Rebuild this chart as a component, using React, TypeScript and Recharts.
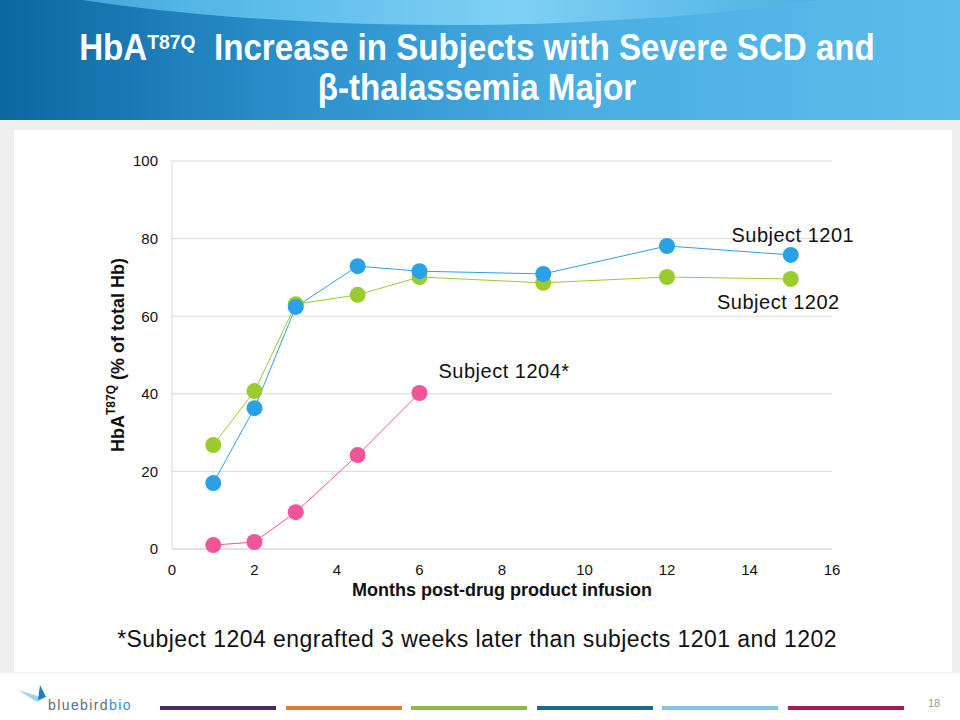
import React from 'react'
import { LineChart, Line, XAxis, YAxis, CartesianGrid, ReferenceDot, Label } from 'recharts'

// months after infusion
const months = [1, 2, 3, 4.5, 6, 9, 12, 15]
// HbA T87Q % of total Hb
const subject1201 = [17.0, 36.3, 62.4, 72.9, 71.6, 70.9, 78.1, 75.8]
const subject1202 = [26.8, 40.7, 63.1, 65.5, 70.1, 68.6, 70.1, 69.6]
const subject1204 = [1.0, 1.8, 9.5, 24.2, 40.2]

const xTicks = [0, 2, 4, 6, 8, 10, 12, 14, 16]
const yTicks = [0, 20, 40, 60, 80, 100]

// label anchors in data units
const seriesLabels = [
  { text: 'Subject 1201', x: 15.05, y: 81 },
  { text: 'Subject 1202', x: 14.7, y: 63.7 },
  { text: 'Subject 1204*', x: 8.05, y: 45.9 },
]

const footerBars = ['#4b2a5c', '#e07a2c', '#8dba45', '#1b6a8d', '#80c3e3', '#a8195b']

const data = months.map((m, i) => ({
  month: m,
  s1201: subject1201[i],
  s1202: subject1202[i],
  s1204: i < subject1204.length ? subject1204[i] : null,
}))

const FONT = '"Liberation Sans", Arial, sans-serif'

const BLUE = '#2aa1e6'
const GREEN = '#9bcb2f'
const PINK = '#ef5598'

function YTitle(props: any) {
  const vb = props.viewBox
  const cx = vb.x - 4
  const cy = vb.y + vb.height / 2
  return (
    <text
      x={cx}
      y={cy}
      transform={`rotate(-90 ${cx} ${cy})`}
      textAnchor="middle"
      dominantBaseline="central"
      style={{ fontFamily: FONT, fontSize: 18, fontWeight: 700, fill: '#111' }}
    >
      HbA
      <tspan fontSize={12} dy={-7}>T87Q</tspan>
      <tspan dy={7}> (% of total Hb)</tspan>
    </text>
  )
}

function SubjectLabel(props: any) {
  const vb = props.viewBox
  return (
    <text
      x={vb.x}
      y={vb.y}
      textAnchor="middle"
      dominantBaseline="central"
      style={{ fontFamily: FONT, fontSize: 20, letterSpacing: 0.5, fill: '#111' }}
    >
      {props.value}
    </text>
  )
}

export default function App() {
  return (
    <div style={{ position: 'absolute', left: 0, top: 0, width: 960, height: 720, background: '#fff', overflow: 'hidden', fontFamily: FONT }}>
      {/* header */}
      <div
        style={{
          position: 'absolute', left: 0, top: 0, width: 960, height: 120,
          background: 'linear-gradient(to right, #0d679f 0%, #2a8fcb 30%, #4aaee2 60%, #5cbcec 100%)',
        }}
      />
      <div
        style={{
          position: 'absolute', left: -200, top: -260, width: 1300, height: 285, borderRadius: '50%',
          background: 'linear-gradient(to right, #1a7fb8 0%, #52b6e6 30%, #7fd0f5 55%, #4aaee0 80%, #0f6fa4 100%)',
        }}
      />
      <div style={{ position: 'absolute', left: 0, top: 28, width: 954, textAlign: 'center', color: '#fff', fontWeight: 700, fontSize: 36, lineHeight: '40px', transform: 'scaleX(0.92)', transformOrigin: '477px 0' }}>
        <div>
          HbA<sup style={{ fontSize: 21, verticalAlign: 'top', position: 'relative', top: -6 }}>T87Q</sup>&nbsp; Increase in Subjects with Severe SCD and
        </div>
        <div>β-thalassemia Major</div>
      </div>

      {/* grey body with white card */}
      <div style={{ position: 'absolute', left: 0, top: 120, width: 960, height: 553, background: '#efefef' }} />
      <div style={{ position: 'absolute', left: 14, top: 130, width: 938, height: 542, background: '#fff' }} />

      <div style={{ position: 'absolute', left: 0, top: 130 }}>
        <LineChart width={960} height={490} data={data} margin={{ top: 31, right: 128, bottom: 41, left: 122 }}>
          <CartesianGrid stroke="#d9d9d9" vertical={false} />
          <XAxis
            dataKey="month"
            type="number"
            domain={[0, 16]}
            ticks={xTicks}
            height={30}
            stroke="#d9d9d9"
            tickLine={false}
            tickSize={6}
            tickMargin={9}
            tick={{ fill: '#111', fontSize: 15, fontFamily: FONT }}
          >
            <Label
              value="Months post-drug product infusion"
              position="bottom"
              offset={4}
              style={{ fontFamily: FONT, fontSize: 18, fontWeight: 700, fill: '#111' }}
            />
          </XAxis>
          <YAxis
            type="number"
            domain={[0, 100]}
            ticks={yTicks}
            width={50}
            stroke="#d9d9d9"
            tickLine={false}
            tickSize={6}
            tickMargin={8}
            tick={{ fill: '#111', fontSize: 15, fontFamily: FONT }}
          >
            <Label content={<YTitle />} />
          </YAxis>
          <Line dataKey="s1202" stroke={GREEN} strokeWidth={1} dot={{ r: 8, fill: GREEN, stroke: 'none' }} isAnimationActive={false} />
          <Line dataKey="s1201" stroke={BLUE} strokeWidth={1} dot={{ r: 8, fill: BLUE, stroke: 'none' }} isAnimationActive={false} />
          <Line dataKey="s1204" stroke={PINK} strokeWidth={1} dot={{ r: 8, fill: PINK, stroke: 'none' }} isAnimationActive={false} />
          {seriesLabels.map((l) => (
            <ReferenceDot key={l.text} x={l.x} y={l.y} r={0} fill="none" stroke="none" label={<SubjectLabel value={l.text} />} />
          ))}
        </LineChart>
      </div>

      <div style={{ position: 'absolute', left: 0, top: 626, width: 954, textAlign: 'center', fontSize: 23, letterSpacing: 0.45, color: '#111' }}>
        *Subject 1204 engrafted 3 weeks later than subjects 1201 and 1202
      </div>

      {/* footer */}
      <svg style={{ position: 'absolute', left: 0, top: 680 }} width={50} height={30}>
        <polygon points="18,10 44,18 37,22" fill="#9ad6f0" />
        <polygon points="40,5 46,17 38,20" fill="#1a7fc2" />
      </svg>
      <div style={{ position: 'absolute', left: 48, top: 697, fontSize: 14, letterSpacing: 1.4, color: '#5f6d79' }}>
        bluebird<span style={{ color: '#2f93d2' }}>bio</span>
      </div>
      {footerBars.map((c, i) => (
        <div key={c} style={{ position: 'absolute', left: 160 + i * 125.5, top: 706, width: 116, height: 4, background: c }} />
      ))}
      <div style={{ position: 'absolute', left: 928, top: 697, fontSize: 11, color: '#999' }}>18</div>
    </div>
  )
}
